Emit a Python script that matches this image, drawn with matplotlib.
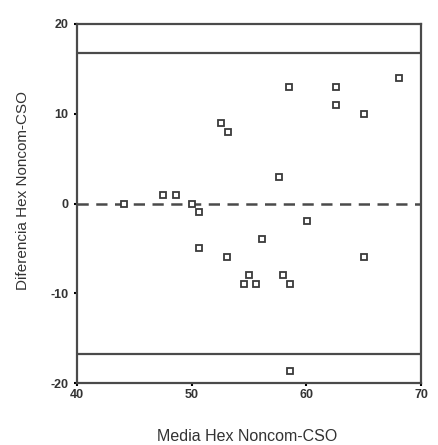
import matplotlib
matplotlib.use('Agg')
import matplotlib.pyplot as plt

# Bland-Altman: media vs diferencia (Hex Noncom - CSO)
media = [44.1, 47.5, 48.6, 50.0, 50.6, 50.6, 52.6, 53.2, 53.1, 54.6, 55.0, 55.6,
         56.1, 57.6, 58.0, 58.6, 58.5, 58.6, 60.1, 62.6, 62.6, 65.0, 65.0, 68.1]
diferencia = [0, 1, 1, 0, -1, -5, 9, 8, -6, -9, -8, -9,
              -4, 3, -8, -9, 13, -18.7, -2, 13, 11, 10, -6, 14]
media_dif = 0
limite_sup = 16.8
limite_inf = -16.8

xticks = [40, 50, 60, 70]
yticks = [-20, -10, 0, 10, 20]

plt.rcParams['font.family'] = ['Liberation Sans', 'DejaVu Sans']
plt.rcParams['axes.unicode_minus'] = False
gris = '#4a4a4a'

fig = plt.figure(figsize=(4.38, 4.45), dpi=100)
ax = fig.add_axes([77/438, 62/445, 344/438, 359/445])

ax.axhline(limite_sup, color=gris, lw=1.6)
ax.axhline(limite_inf, color=gris, lw=1.6)
ax.axhline(media_dif, color=gris, lw=1.8, ls=(0, (4.5, 3)))
ax.plot(media, diferencia, 's', ms=3.8, mfc='white', mec='#3a3a3a', mew=1.3)

ax.set_xlim(40, 70)
ax.set_ylim(-20, 20)
ax.set_xticks(xticks)
ax.set_yticks(yticks)
for s in ax.spines.values():
    s.set_color(gris)
    s.set_linewidth(1.6)
ax.tick_params(length=2, width=1.5, color='black', labelsize=9, pad=4)
ax.tick_params(axis='x', pad=2)
for t in ax.get_xticklabels() + ax.get_yticklabels():
    t.set_fontweight('bold')
    t.set_color('#333333')

ax.set_xlabel('Media Hex Noncom-CSO', fontsize=11.5, color='#333333')
ax.set_ylabel('Diferencia Hex Noncom-CSO', fontsize=11, color='#333333')
ax.xaxis.set_label_coords(0.495, -0.128)
ax.yaxis.set_label_coords(-0.137, 0.535)

fig.savefig('out.png', dpi=100)
